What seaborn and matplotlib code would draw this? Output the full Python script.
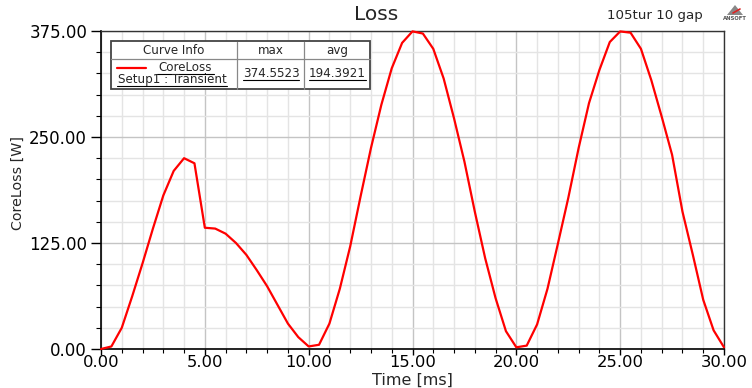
import matplotlib
matplotlib.use("Agg")
import matplotlib.pyplot as plt
from matplotlib.patches import Rectangle, Polygon
from matplotlib.lines import Line2D
from matplotlib.ticker import MultipleLocator, FormatStrFormatter
import seaborn as sns
import pandas as pd

time_ms = [0.0, 0.5, 1.0, 1.5, 2.0, 2.5, 3.0, 3.5, 4.0, 4.5,
           5.0, 5.5, 6.0, 6.5, 7.0, 7.5, 8.0, 8.5, 9.0, 9.5,
           10.0, 10.5, 11.0, 11.5, 12.0, 12.5, 13.0, 13.5, 14.0, 14.5,
           15.0, 15.5, 16.0, 16.5, 17.0, 17.5, 18.0, 18.5, 19.0, 19.5,
           20.0, 20.5, 21.0, 21.5, 22.0, 22.5, 23.0, 23.5, 24.0, 24.5,
           25.0, 25.5, 26.0, 26.5, 27.0, 27.5, 28.0, 28.5, 29.0, 29.5, 30.0]
core_loss = [0, 3, 25, 62, 101, 142, 181, 210, 225, 219,
             143, 142, 136, 125, 111, 93, 74, 52, 30, 14,
             3, 5, 30, 71, 121, 180, 237, 288, 331, 361,
             374.55, 372, 354, 319, 272, 221, 162, 107, 60, 21,
             2, 4, 29, 71, 124, 178, 237, 290, 329, 362,
             374.5, 373, 354, 317, 274, 229, 162, 111, 58, 22, 2]
x_ticks = [0, 5, 10, 15, 20, 25, 30]
y_ticks = [0, 125, 250, 375]
legend_headers = ["Curve Info", "max", "avg"]
legend_curve = ["CoreLoss", "Setup1 : Transient"]
legend_stats = ["374.5523", "194.3921"]

df = pd.DataFrame({"Time [ms]": time_ms, "CoreLoss [W]": core_loss})

sns.set_style("white")
plt.rcParams["font.family"] = ["DejaVu Sans"]

W, H = 752, 388
fig = plt.figure(figsize=(W / 100, H / 100), dpi=100)
ax = fig.add_axes([101 / W, 1 - 349 / H, (724 - 101) / W, (349 - 31) / H])

sns.lineplot(data=df, x="Time [ms]", y="CoreLoss [W]", ax=ax, color="#ff0000",
             linewidth=1.6, clip_on=False, zorder=5)

ax.set_xlim(0, 30)
ax.set_ylim(0, 375)
ax.set_xticks(x_ticks)
ax.set_yticks(y_ticks)
ax.xaxis.set_minor_locator(MultipleLocator(1))
ax.yaxis.set_minor_locator(MultipleLocator(25))
ax.xaxis.set_major_formatter(FormatStrFormatter("%.2f"))
ax.yaxis.set_major_formatter(FormatStrFormatter("%.2f"))
ax.grid(which="major", color="#c4c4c4", linewidth=1.0)
ax.grid(which="minor", color="#e4e4e4", linewidth=1.0)
ax.set_axisbelow(True)
ax.tick_params(axis="y", which="major", direction="out", length=7, width=1,
               colors="black", labelsize=12, pad=3, left=True)
ax.tick_params(axis="y", which="minor", direction="out", length=3.6, width=0.8,
               colors="black", left=True)
ax.tick_params(axis="x", which="major", direction="out", length=4, width=1,
               colors="black", labelsize=11.8, pad=0, bottom=True)
ax.tick_params(axis="x", which="minor", direction="out", length=3, width=0.8,
               colors="black", bottom=True)
for s in ["left", "bottom"]:
    ax.spines[s].set_color("black")
    ax.spines[s].set_linewidth(1.2)
for s in ["right", "top"]:
    ax.spines[s].set_color("#333333")
    ax.spines[s].set_linewidth(1.0)

ax.set_xlabel("Time [ms]", fontsize=11.5, va="bottom")
ax.xaxis.set_label_coords(0.5, (349 - 388) / 318)
ax.set_ylabel("CoreLoss [W]", fontsize=10.3, va="center")
ax.yaxis.set_label_coords((18 - 101) / 623, (349 - 183) / 318)

# Title and annotations
fig.text(376 / W, 1 - 14 / H, "Loss", ha="center", va="center", fontsize=14.5)
fig.text(655 / W, 1 - 15 / H, "105tur 10 gap", ha="center", va="center", fontsize=9.6)
fig.text(735 / W, 1 - 19 / H, "ANSOFT", ha="center", va="center", fontsize=3.8,
         color="#555555", weight="bold")
tri = Polygon([(735 / W, 1 - 5 / H), (727 / W, 1 - 15 / H), (743 / W, 1 - 15 / H)],
              closed=True, transform=fig.transFigure, facecolor="#888888",
              edgecolor="none")
fig.add_artist(tri)
fig.add_artist(Line2D([733 / W, 740 / W], [1 - 13 / H, 1 - 9 / H],
                      transform=fig.transFigure, color="#dd2222", linewidth=1.2))


# Legend table in figure pixel coords
def fx(px):
    return px / W


def fy(py):
    return 1 - py / H


bx0, bx1, by0, by1 = 111, 370, 41.5, 88.5
fig.add_artist(Rectangle((fx(bx0), fy(by1)), fx(bx1) - fx(bx0), fy(by0) - fy(by1),
                         transform=fig.transFigure, facecolor="white",
                         edgecolor="#444444", linewidth=1.3, zorder=10))
line_kw = dict(transform=fig.transFigure, color="#888888", linewidth=0.9, zorder=11)
fig.add_artist(Line2D([fx(bx0), fx(bx1)], [fy(59), fy(59)], **line_kw))
fig.add_artist(Line2D([fx(237), fx(237)], [fy(by0), fy(by1)], **line_kw))
fig.add_artist(Line2D([fx(304), fx(304)], [fy(by0), fy(by1)], **line_kw))

fs = 8.6
fig.text(fx(174), fy(50.5), legend_headers[0], ha="center", va="center", fontsize=fs, zorder=12)
fig.text(fx(270.5), fy(50.5), legend_headers[1], ha="center", va="center", fontsize=fs, zorder=12)
fig.text(fx(337), fy(50.5), legend_headers[2], ha="center", va="center", fontsize=fs, zorder=12)

fig.add_artist(Line2D([fx(117), fx(146)], [fy(67.5), fy(67.5)], transform=fig.transFigure,
                      color="#ff0000", linewidth=1.6, zorder=12))
fig.text(fx(185.5), fy(67.5), legend_curve[0], ha="center", va="center", fontsize=fs, zorder=12)
fig.text(fx(172), fy(79.5), legend_curve[1], ha="center", va="center", fontsize=fs, zorder=12)
fig.text(fx(271), fy(73.5), legend_stats[0], ha="center", va="center", fontsize=fs, zorder=12)
fig.text(fx(337), fy(73.5), legend_stats[1], ha="center", va="center", fontsize=fs, zorder=12)

ul_kw = dict(transform=fig.transFigure, color="black", linewidth=0.8, zorder=12)
fig.add_artist(Line2D([fx(157), fx(214)], [fy(73.5), fy(73.5)], **ul_kw))
fig.add_artist(Line2D([fx(117), fx(227)], [fy(85.5), fy(85.5)], **ul_kw))
fig.add_artist(Line2D([fx(243), fx(299)], [fy(79.5), fy(79.5)], **ul_kw))
fig.add_artist(Line2D([fx(309), fx(366)], [fy(79.5), fy(79.5)], **ul_kw))

fig.savefig("out.png", dpi=100)
